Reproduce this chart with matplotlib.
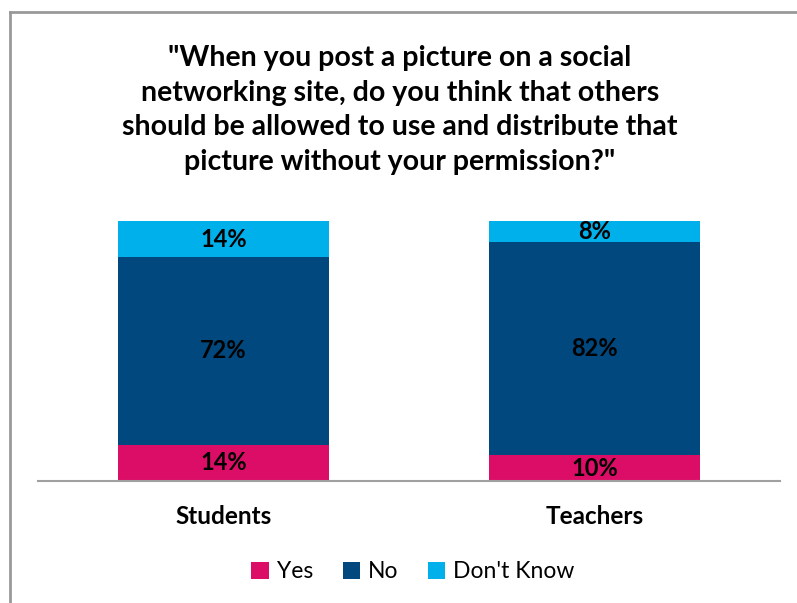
import matplotlib.pyplot as plt
from matplotlib.lines import Line2D

groups = ["Students", "Teachers"]
yes = [14, 10]
no = [72, 82]
dont_know = [14, 8]
series_names = ["Yes", "No", "Don't Know"]
colors = ["#DC0D66", "#01487F", "#00B0EA"]

title = ('"When you post a picture on a social\nnetworking site, do you think that others\n'
         'should be allowed to use and distribute that\npicture without your permission?"')

plt.rcParams['font.family'] = ['Lato', 'DejaVu Sans']

fig = plt.figure(figsize=(7.97, 6.03), dpi=100)
ax = fig.add_axes([38 / 797, 1 - 481 / 603, 742 / 797, 260 / 603])

x = list(range(len(groups)))
width = 0.57
bottom = [0, 0]
for vals, name, c in zip([yes, no, dont_know], series_names, colors):
    bars = ax.bar(x, vals, width, bottom=bottom, color=c, label=name, zorder=2)
    for b, v, b0 in zip(bars, vals, bottom):
        ax.text(b.get_x() + b.get_width() / 2, b0 + v / 2, f"{v}%",
                ha="center", va="center", fontsize=17, fontweight="bold",
                color="black", zorder=3)
    bottom = [a + v for a, v in zip(bottom, vals)]

ax.set_xlim(-0.5, 1.5)
ax.set_ylim(0, 100)
for s in ["top", "right", "left"]:
    ax.spines[s].set_visible(False)
ax.spines["bottom"].set_color("#A0A0A0")
ax.spines["bottom"].set_linewidth(1.5)
ax.set_yticks([])
ax.set_xticks(x)
ax.set_xticklabels(groups, fontsize=17.5, fontweight="bold")
ax.tick_params(axis="x", length=0, pad=17)

fig.text(0.502, 1 - 110 / 603, title, ha="center", va="center", fontsize=20.5,
         fontweight="bold", linespacing=1.42)

fig.legend(loc="center", bbox_to_anchor=(413 / 797, 1 - 572 / 603), ncol=3,
           frameon=False, fontsize=16.5, handlelength=0.75, handleheight=0.75,
           handletextpad=0.35, columnspacing=1.3)

# outer frame (top and left edges only)
fig.add_artist(Line2D([10 / 797, 1], [1 - 12 / 603] * 2, transform=fig.transFigure,
                      color="#999999", lw=2))
fig.add_artist(Line2D([10 / 797] * 2, [0, 1 - 12 / 603], transform=fig.transFigure,
                      color="#999999", lw=2))

fig.savefig("out.png", dpi=100)
